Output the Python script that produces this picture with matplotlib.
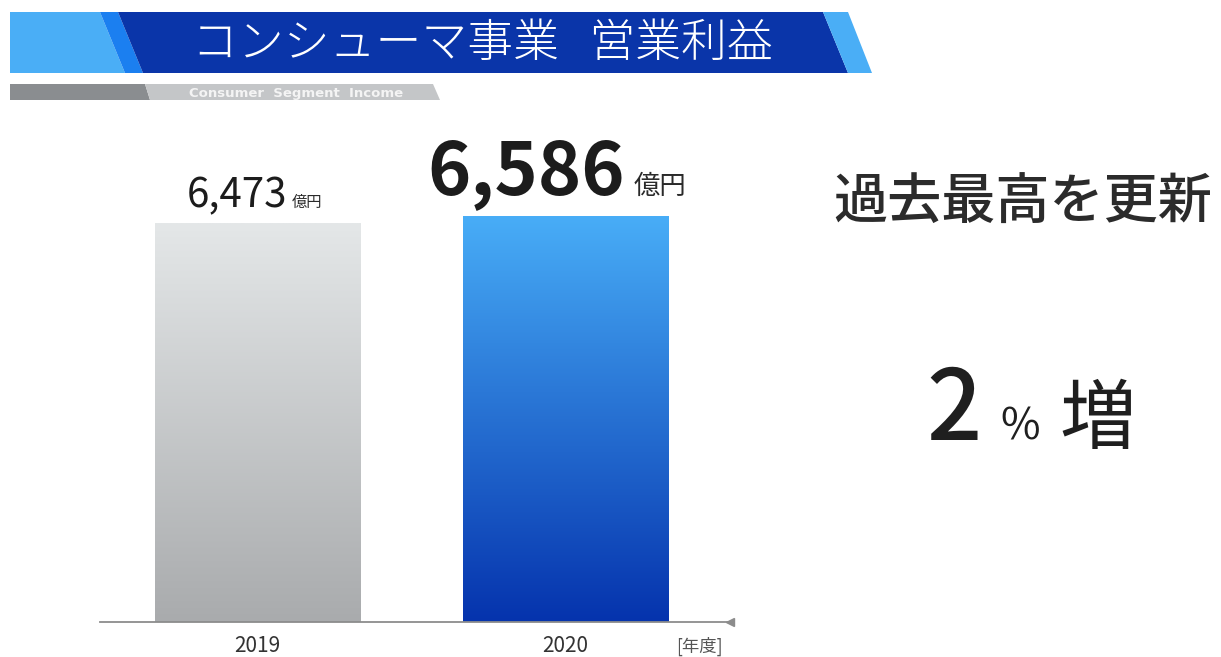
import numpy as np
import matplotlib.pyplot as plt
from matplotlib.patches import Polygon
from matplotlib.colors import LinearSegmentedColormap

plt.rcParams['font.family'] = ['Noto Sans CJK JP', 'DejaVu Sans']

# --- data ---------------------------------------------------------------
years = ["2019", "2020"]
income = [6473, 6586]            # 億円
value_labels = ["6,473", "6,586"]
unit = "億円"
title = "コンシューマ事業   営業利益"
subtitle = "Consumer Segment Income"
headline = "過去最高を更新"
growth = "2"

W, H = 1221, 657
fig = plt.figure(figsize=(W / 100, H / 100), dpi=100)
fig.patch.set_facecolor("white")

# overlay in pixel coords for the banner and side text
bg = fig.add_axes([0, 0, 1, 1])
bg.set_xlim(0, W)
bg.set_ylim(H, 0)
bg.axis("off")

# title banner: light blue | mid stripe | dark blue | light blue edge
bg.add_patch(Polygon([(10, 12), (100, 12), (125, 73), (10, 73)], closed=True,
                     facecolor="#4aaef6", edgecolor="none"))
bg.add_patch(Polygon([(100, 12), (118, 12), (143, 73), (125, 73)], closed=True,
                     facecolor="#1b7ff0", edgecolor="none"))
bg.add_patch(Polygon([(118, 12), (823, 12), (848, 73), (143, 73)], closed=True,
                     facecolor="#0a35a9", edgecolor="none"))
bg.add_patch(Polygon([(823, 12), (848, 12), (872, 73), (848, 73)], closed=True,
                     facecolor="#4aaef6", edgecolor="none"))
bg.text(482, 44, title, color="white", fontsize=33, weight="light",
        ha="center", va="center")

# subtitle strip
bg.add_patch(Polygon([(10, 84), (145, 84), (150, 100), (10, 100)], closed=True,
                     facecolor="#8a8d90", edgecolor="none"))
bg.add_patch(Polygon([(145, 84), (433, 84), (440, 100), (150, 100)], closed=True,
                     facecolor="#c4c6c8", edgecolor="none"))
bg.text(296, 93, "  ".join(subtitle.split(" ")), color="#f4f4f4", fontsize=9.5,
        weight="bold", ha="center", va="center", family="DejaVu Sans")

# right-hand messages
bg.text(1023, 219, headline, color="#2b2b2b", fontsize=39, weight="medium",
        ha="center", va="baseline")
bg.text(954, 440, growth, color="#1f1f1f", fontsize=70, weight="medium",
        ha="center", va="baseline")
bg.text(1020, 440, "%", color="#1f1f1f", fontsize=31, ha="center", va="baseline")
bg.text(1098, 443, "増", color="#1f1f1f", fontsize=55, ha="center", va="baseline")

# --- bar chart ------------------------------------------------------------
base_px, top_px = 622, 122
ymax = income[0] * (base_px - top_px) / 399.0
ax = fig.add_axes([100 / W, (H - base_px) / H, 630 / W, (base_px - top_px) / H])
ax.patch.set_alpha(0)
for s in ["top", "right", "left", "bottom"]:
    ax.spines[s].set_visible(False)
ax.set_yticks([])
ax.set_xticks([])

x = np.arange(len(years))
gradients = [("#e4e7e8", "#a9abad"), ("#48adf7", "#0533ad")]
bars = ax.bar(x, income, width=0.666, color="none", edgecolor="none", zorder=2)
grad = np.linspace(0, 1, 256).reshape(-1, 1)
for b, (top, bottom) in zip(bars, gradients):
    cmap = LinearSegmentedColormap.from_list("g", [bottom, top])
    x0, w, h = b.get_x(), b.get_width(), b.get_height()
    im = ax.imshow(grad, cmap=cmap, aspect="auto", origin="lower",
                   extent=[x0, x0 + w, 0, h], zorder=2)
    im.set_clip_path(b)
ax.set_xlim(-0.511, 1.534)
ax.set_ylim(0, ymax)

# baseline with left-pointing arrowhead
ax.axhline(0, color="#8c8c8c", lw=1.3, zorder=3, clip_on=False)
ax.plot([1.534], [0], marker="<", color="#8c8c8c", markersize=6, clip_on=False, zorder=3)

# value labels
num_style = [dict(size=29, weight="normal", num_dx=30, unit_dx=34, unit_size=11, dy=16),
             dict(size=53, weight="bold", num_dx=60, unit_dx=68, unit_size=19, dy=22)]
for xi, v, lab, st in zip(x, income, value_labels, num_style):
    ax.annotate(lab, (xi, v), xytext=(st["num_dx"], st["dy"]), textcoords="offset pixels",
                ha="right", va="baseline", fontsize=st["size"], weight=st["weight"],
                color="#1c1c1c", annotation_clip=False)
    ax.annotate(unit, (xi, v), xytext=(st["unit_dx"], st["dy"]), textcoords="offset pixels",
                ha="left", va="baseline", fontsize=st["unit_size"],
                color="#2a2a2a", annotation_clip=False)

# category labels
for xi, yr in zip(x, years):
    ax.annotate(yr, (xi, 0), xytext=(0, -30), textcoords="offset pixels",
                ha="center", va="baseline", fontsize=15, color="#333333",
                annotation_clip=False)
ax.annotate("[年度]", (1.534, 0), xytext=(-31, -30), textcoords="offset pixels",
            ha="center", va="baseline", fontsize=12.5, color="#555555",
            annotation_clip=False)

fig.savefig("out.png", dpi=100)
